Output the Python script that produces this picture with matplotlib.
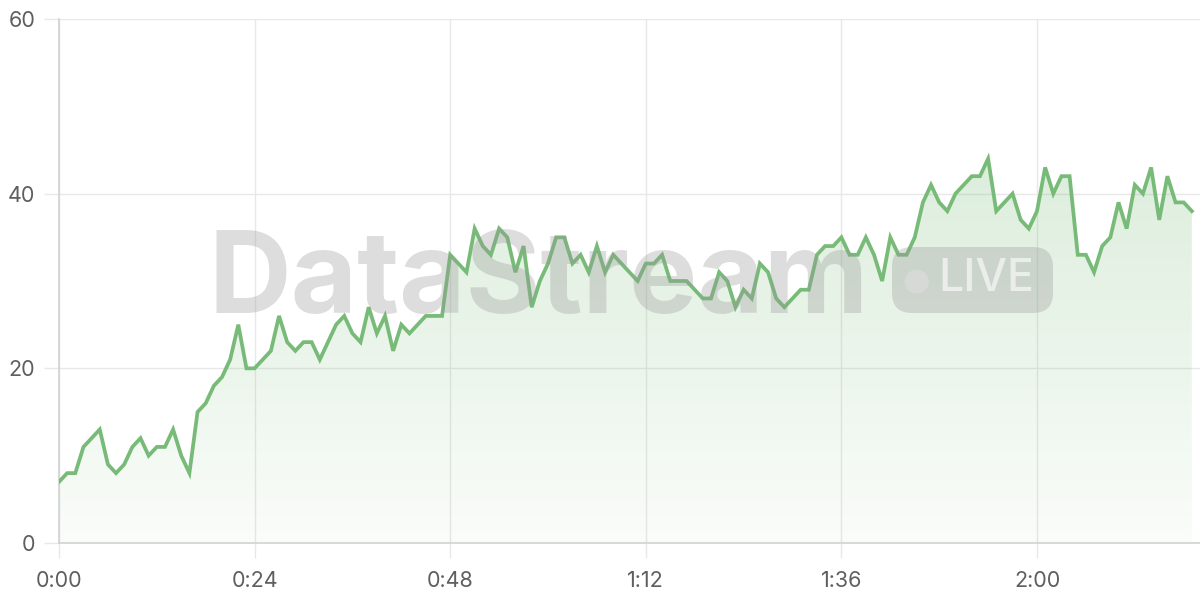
import matplotlib
matplotlib.use("Agg")
import matplotlib.pyplot as plt
import numpy as np
from matplotlib.colors import LinearSegmentedColormap
from matplotlib.patches import FancyBboxPatch, Circle, Polygon

# valori (un punto al secondo)
values = [
    7, 8, 8, 11, 12, 13, 9, 8, 9, 11,
    12, 10, 11, 11, 13, 10, 8, 15, 16, 18,
    19, 21, 25, 20, 20, 21, 22, 26, 23, 22,
    23, 23, 21, 23, 25, 26, 24, 23, 27, 24,
    26, 22, 25, 24, 25, 26, 26, 26, 33, 32,
    31, 36, 34, 33, 36, 35, 31, 34, 27, 30,
    32, 35, 35, 32, 33, 31, 34, 31, 33, 32,
    31, 30, 32, 32, 33, 30, 30, 30, 29, 28,
    28, 31, 30, 27, 29, 28, 32, 31, 28, 27,
    28, 29, 29, 33, 34, 34, 35, 33, 33, 35,
    33, 30, 35, 33, 33, 35, 39, 41, 39, 38,
    40, 41, 42, 42, 44, 38, 39, 40, 37, 36,
    38, 43, 40, 42, 42, 33, 33, 31, 34, 35,
    39, 36, 41, 40, 43, 37, 42, 39, 39, 38,
]
seconds = list(range(len(values)))
x_ticks = [0, 24, 48, 72, 96, 120]
x_labels = ["0:00", "0:24", "0:48", "1:12", "1:36", "2:00"]
y_ticks = [0, 20, 40, 60]

line_color = "#78bb78"
text_color = "#5f5f5f"
grid_color = "#e8e8e8"

plt.rcParams["font.family"] = ["Inter", "DejaVu Sans"]

fig = plt.figure(figsize=(12, 6), dpi=100)
ax = fig.add_axes([59 / 1200, 57 / 600, 1 - 59 / 1200, (543 - 19) / 600])

# riempimento sfumato sotto la linea
grad_cmap = LinearSegmentedColormap.from_list(
    "g", [(0.47, 0.73, 0.47, 0.04), (0.47, 0.73, 0.47, 0.26)])
grad = np.linspace(0, 1, 256).reshape(-1, 1)
img = ax.imshow(grad, extent=[0, 140, 0, 45], origin="lower", aspect="auto",
                cmap=grad_cmap, zorder=1)
verts = [(0, 0)] + list(zip(seconds, values)) + [(seconds[-1], 0)]
poly = Polygon(verts, closed=True, facecolor="none", edgecolor="none")
ax.add_patch(poly)
img.set_clip_path(poly)

ax.plot(seconds, values, color=line_color, lw=2.7, solid_joinstyle="miter",
        zorder=4)

ax.set_xlim(0, 140)
ax.set_ylim(0, 60)
ax.set_xticks(x_ticks)
ax.set_xticklabels(x_labels)
ax.set_yticks(y_ticks)
ax.grid(True, color=grid_color, lw=1, zorder=0)
ax.set_axisbelow(True)
ax.tick_params(axis="both", length=11, width=1, color=grid_color,
               labelcolor=text_color, labelsize=15.5)
ax.tick_params(axis="x", pad=9)
ax.tick_params(axis="y", pad=6)
for s in ["top", "right"]:
    ax.spines[s].set_visible(False)
for s in ["left", "bottom"]:
    ax.spines[s].set_color("#d2d2d2")
    ax.spines[s].set_linewidth(1.2)

# filigrana
tr = fig.dpi_scale_trans
fig.text(2.09, 2.87, "DataStream", transform=tr, fontsize=82.5,
         fontweight="bold", color="#999999", alpha=0.33,
         ha="left", va="baseline", zorder=3)
pill = FancyBboxPatch((8.92, 2.87), 1.61, 0.66, transform=tr,
                      boxstyle="round,pad=0,rounding_size=0.2",
                      facecolor="#999999", alpha=0.33, edgecolor="none",
                      zorder=3)
fig.patches.append(pill)
fig.patches.append(Circle((9.167, 3.183), 0.12, transform=tr,
                          facecolor="white", alpha=0.6, edgecolor="none"))
fig.text(9.38, 3.21, "LIVE", transform=tr, fontsize=32, fontweight="medium",
         color="white", alpha=0.6, ha="left", va="center")

fig.savefig("out.png", dpi=100)
